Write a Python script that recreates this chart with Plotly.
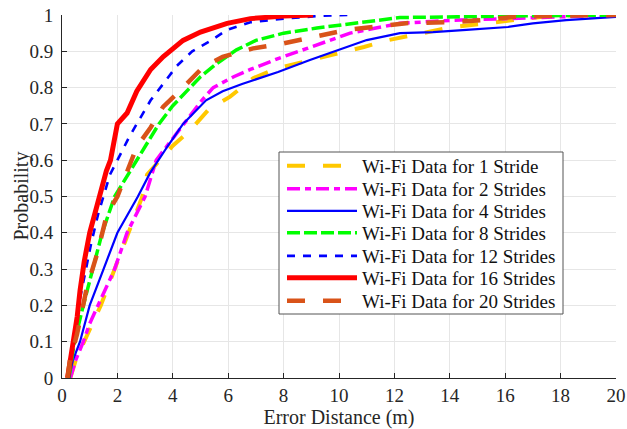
import plotly.graph_objects as go

names = ["Wi-Fi Data for 1 Stride", "Wi-Fi Data for 2 Strides", "Wi-Fi Data for 4 Strides",
         "Wi-Fi Data for 8 Strides", "Wi-Fi Data for 12 Strides", "Wi-Fi Data for 16 Strides",
         "Wi-Fi Data for 20 Strides"]

x1 = [0.3,0.5,0.8,1.1,1.4,1.9,2.4,2.9,3.07,4.0,4.6,5.3,6.07,6.9,7.76,8.7,9.8,10.9,11.8,13.0,14.1,15.3,16.4,17.7,20]
p1 = [0,0.05,0.1,0.15,0.2,0.3,0.4,0.5,0.56,0.64,0.68,0.74,0.775,0.826,0.853,0.87,0.89,0.912,0.931,0.95,0.967,0.977,0.986,0.998,1.0]

x2 = [0.3,0.5,0.77,1.0,1.3,1.6,1.9,2.35,3.0,3.4,3.9,4.37,5.05,5.46,6.2,6.8,7.8,8.85,10.4,12.2,14,16,18,20]
p2 = [0,0.05,0.1,0.15,0.2,0.25,0.3,0.4,0.5,0.6,0.65,0.7,0.765,0.8,0.83,0.85,0.88,0.908,0.95,0.977,0.985,0.99,0.995,1.0]

x4 = [0.25,0.4,0.65,1.0,1.5,2.0,2.74,3.18,3.8,4.37,5.2,5.8,6.5,7.8,8.95,10.0,11.0,12.2,13.4,14.6,16.1,17.0,18.2,20]
p4 = [0,0.05,0.1,0.2,0.3,0.4,0.5,0.565,0.637,0.7,0.765,0.79,0.81,0.843,0.876,0.904,0.931,0.95,0.953,0.959,0.967,0.977,0.986,0.995]

x8 = [0.25,0.45,0.77,1.1,1.45,1.9,2.3,2.7,3.1,3.5,4.0,4.6,5.0,5.6,6.3,7.0,8.0,9.2,10.4,12.2,16,20]
p8 = [0,0.1,0.2,0.3,0.4,0.5,0.55,0.6,0.65,0.7,0.75,0.8,0.83,0.867,0.904,0.93,0.95,0.964,0.975,0.993,0.997,1.0]

x12 = [0.25,0.4,0.6,0.85,1.05,1.3,1.5,1.73,2.0,2.4,2.7,3.2,3.65,4.15,4.7,5.3,5.96,6.8,8.0,9.4,10.3]
p12 = [0,0.1,0.2,0.3,0.37,0.45,0.5,0.56,0.6,0.66,0.70,0.765,0.81,0.86,0.9,0.926,0.959,0.98,0.99,0.998,1.0]

x16 = [0.2,0.3,0.43,0.55,0.65,0.8,1.0,1.2,1.37,1.6,1.75,2.0,2.35,2.7,3.2,3.65,4.37,5.0,5.96,6.8,8.0,9.06]
p16 = [0,0.05,0.1,0.17,0.24,0.32,0.4,0.46,0.51,0.57,0.6,0.7,0.73,0.79,0.85,0.885,0.93,0.953,0.977,0.99,0.997,1.0]

x20 = [0.2,0.29,0.54,0.9,1.26,1.62,2.0,2.35,2.7,3.2,3.65,4.37,5.1,5.8,6.9,8.0,9.2,10.3,12.5,14.0,15.2,16.3,18,20]
p20 = [0,0.05,0.12,0.25,0.34,0.45,0.5,0.565,0.637,0.69,0.747,0.8,0.857,0.885,0.908,0.922,0.94,0.959,0.978,0.98,0.986,0.995,0.998,1.0]

xs = [x1, x2, x4, x8, x12, x16, x20]
ps = [p1, p2, p4, p8, p12, p16, p20]
colors = ["#FFC800", "#FF00FF", "#0000FF", "#00FF00", "#0000FF", "#FF0000", "#D95319"]
widths = [4, 3.5, 2.2, 3.5, 2.6, 5, 4.5]
dashes = ["18px,18px", "13px,5px,6px,5px", "solid", "13px,4px", "8px,8px", "solid", "18px,18px"]

font = "Liberation Serif"
L, R, T, B = 62, 11, 15, 51
W, H = 627, 429
pw, ph = W - L - R, H - T - B

def px_to_paper_x(px):
    return (px - L) / pw

def px_to_paper_y(py):
    return (H - B - py) / ph

# legend box geometry (pixels) and row centres
box = (279, 152, 563, 314)
row_y = [166, 189, 211, 233, 256, 278, 301]

fig = go.Figure()
legend_layouts = {}
for i, (n, x, p, c, w, d) in enumerate(zip(names, xs, ps, colors, widths, dashes)):
    key = "legend" if i == 0 else f"legend{i+1}"
    fig.add_trace(go.Scatter(x=x, y=p, mode="lines", name=n, legend=key,
                             line=dict(color=c, width=w, dash=d)))
    legend_layouts[key] = dict(
        x=px_to_paper_x(282), y=px_to_paper_y(row_y[i]),
        xanchor="left", yanchor="middle",
        bgcolor="rgba(0,0,0,0)", borderwidth=0,
        font=dict(family=font, size=19, color="#111111"),
        itemwidth=70)

fig.add_shape(type="rect", xref="paper", yref="paper",
              x0=px_to_paper_x(box[0]), x1=px_to_paper_x(box[2]),
              y0=px_to_paper_y(box[3]), y1=px_to_paper_y(box[1]),
              line=dict(color="#555555", width=1), fillcolor="white", layer="above")

fig.add_annotation(text="Probability", textangle=-90, xref="paper", yref="paper",
                   x=px_to_paper_x(21), y=0.5, xanchor="center", yanchor="middle",
                   showarrow=False, font=dict(family=font, size=20, color="#262626"))

fig.update_layout(
    width=W, height=H,
    margin=dict(l=L, r=R, t=T, b=B),
    plot_bgcolor="white", paper_bgcolor="white",
    font=dict(family=font, size=19, color="#262626"),
    showlegend=True,
    xaxis=dict(range=[0, 20], dtick=2, tick0=0, showgrid=True, gridcolor="#E6E6E6",
               showline=True, linecolor="#262626", linewidth=1, ticks="inside",
               ticklen=5, tickcolor="#262626", zeroline=False, automargin=False,
               tickfont=dict(family=font, size=19),
               title=dict(text="Error Distance (m)", font=dict(family=font, size=20), standoff=4)),
    yaxis=dict(range=[0, 1], dtick=0.1, tick0=0, showgrid=True, gridcolor="#E6E6E6",
               showline=True, linecolor="#262626", linewidth=1, ticks="inside",
               ticklen=5, tickcolor="#262626", zeroline=False, automargin=False,
               tickformat="~g", tickfont=dict(family=font, size=19), ticklabelstandoff=4),
    **legend_layouts,
)
fig.write_html("out.html")
